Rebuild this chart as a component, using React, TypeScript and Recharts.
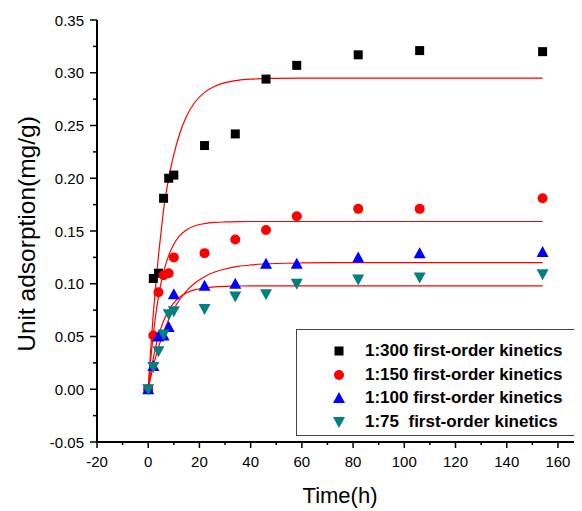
import React from 'react';
import { ComposedChart, XAxis, YAxis, Scatter, Line, Legend } from 'recharts';

const times = [0, 2, 4, 6, 8, 10, 22, 34, 46, 58, 82, 106, 154];
const r300 = [0, 0.105, 0.110, 0.181, 0.200, 0.203, 0.231, 0.242, 0.294, 0.307, 0.317, 0.321, 0.320];
const r150 = [0, 0.051, 0.092, 0.108, 0.110, 0.125, 0.129, 0.142, 0.151, 0.164, 0.171, 0.171, 0.181];
const r100 = [0, 0.022, 0.050, 0.051, 0.059, 0.090, 0.098, 0.100, 0.119, 0.119, 0.125, 0.129, 0.130];
const r75 = [0, 0.021, 0.036, 0.052, 0.071, 0.074, 0.076, 0.088, 0.090, 0.100, 0.104, 0.106, 0.109];

const fitTimes = [0, 1, 2, 3, 4, 5, 6, 8, 10, 12, 15, 18, 22, 26, 30, 35, 40, 50, 60, 80, 110, 154];
const fit300 = [0, 0.0385, 0.072, 0.101, 0.1265, 0.1485, 0.170, 0.200, 0.2223, 0.240, 0.2589, 0.2713, 0.2814, 0.2872, 0.2906, 0.2928, 0.2939, 0.2947, 0.295, 0.295, 0.295, 0.295];
const fit150 = [0, 0.0288, 0.0524, 0.0718, 0.0876, 0.1005, 0.1111, 0.1269, 0.1375, 0.1446, 0.1511, 0.1547, 0.157, 0.1581, 0.1586, 0.1589, 0.159, 0.159, 0.159, 0.159, 0.159, 0.159];
const fit100 = [0, 0.0114, 0.0218, 0.0311, 0.0396, 0.0472, 0.0541, 0.0661, 0.0759, 0.0839, 0.0932, 0.1002, 0.1067, 0.1111, 0.114, 0.1164, 0.1178, 0.1192, 0.1197, 0.12, 0.12, 0.12];
const fit75 = [0, 0.0161, 0.0296, 0.0409, 0.0503, 0.0582, 0.0647, 0.0748, 0.0818, 0.0867, 0.0914, 0.0942, 0.0961, 0.0971, 0.0976, 0.0978, 0.098, 0.098, 0.098, 0.098, 0.098, 0.098];

const seriesNames = ['1:300 first-order kinetics', '1:150 first-order kinetics', '1:100 first-order kinetics', '1:75  first-order kinetics'];
const xTicks = [-20, -10, 0, 10, 20, 30, 40, 50, 60, 70, 80, 90, 100, 110, 120, 130, 140, 150, 160];
const yTicks = [-0.05, -0.025, 0, 0.025, 0.05, 0.075, 0.1, 0.125, 0.15, 0.175, 0.2, 0.225, 0.25, 0.275, 0.3, 0.325, 0.35];

const FONT = '"Liberation Sans", Arial, sans-serif';

const toPts = (xs: number[], ys: number[]) => xs.map((x, i) => ({ x, y: ys[i] }));

const Square = (p: any) => <rect x={p.cx - 4.5} y={p.cy - 4.5} width={9} height={9} fill="#000" />;
const Circle = (p: any) => <circle cx={p.cx} cy={p.cy} r={5} fill="#ff0000" />;
const TriUp = (p: any) => <polygon points={`${p.cx - 6},${p.cy + 5} ${p.cx + 6},${p.cy + 5} ${p.cx},${p.cy - 6}`} fill="#0000ff" />;
const TriDown = (p: any) => <polygon points={`${p.cx - 6},${p.cy - 5} ${p.cx + 6},${p.cy - 5} ${p.cx},${p.cy + 6}`} fill="#008080" />;

const XTick = (props: any) => {
  const { x, y, payload } = props;
  const v = payload.value;
  const major = Math.round(v) % 20 === 0;
  return (
    <g>
      <line x1={x} y1={y} x2={x} y2={y + (major ? 6 : 3)} stroke="#000" strokeWidth={1.5} />
      {major && (
        <text x={x} y={y + 25} textAnchor="middle" fontSize={15} fontFamily={FONT} fill="#000">{v}</text>
      )}
    </g>
  );
};

const YTick = (props: any) => {
  const { x, y, payload } = props;
  const v = payload.value;
  const major = Math.round(v * 1000) % 50 === 0;
  return (
    <g>
      <line x1={x} y1={y} x2={x - (major ? 7 : 4)} y2={y} stroke="#000" strokeWidth={1.5} />
      {major && (
        <text x={x - 13} y={y + 5.5} textAnchor="end" fontSize={15} fontFamily={FONT} fill="#000">{v.toFixed(2)}</text>
      )}
    </g>
  );
};

const LegendSym = ({ i }: { i: number }) => (
  <svg width={14} height={14} style={{ display: 'block' }}>
    {i === 0 && <rect x={2.5} y={2.5} width={9} height={9} fill="#000" />}
    {i === 1 && <circle cx={7} cy={7} r={5} fill="#ff0000" />}
    {i === 2 && <polygon points="1,12 13,12 7,1" fill="#0000ff" />}
    {i === 3 && <polygon points="1,2 13,2 7,13" fill="#008080" />}
  </svg>
);

const LegendBox = () => (
  <div style={{ width: 285, height: 107, boxSizing: 'border-box', border: '1px solid #444', background: '#fff', position: 'relative' }}>
    {seriesNames.map((n, i) => (
      <div key={i} style={{ position: 'absolute', left: 0, top: 10 + i * 23.5, height: 22, display: 'flex', alignItems: 'center' }}>
        <div style={{ position: 'absolute', left: 35 }}><LegendSym i={i} /></div>
        <div style={{ position: 'absolute', left: 68, whiteSpace: 'pre', fontFamily: FONT, fontWeight: 'bold', fontSize: 17, color: '#000', lineHeight: '22px', top: 0 }}>{n}</div>
      </div>
    ))}
  </div>
);

export default function App() {
  return (
    <ComposedChart width={574} height={503} margin={{ top: 12, right: 1, left: 0, bottom: 0 }}>
      <XAxis
        type="number"
        dataKey="x"
        domain={[-20, 169]}
        ticks={xTicks}
        interval={0}
        tick={<XTick />}
        tickSize={0}
        tickMargin={0}
        tickLine={false}
        axisLine={{ stroke: '#000', strokeWidth: 2 }}
        height={69}
        allowDataOverflow
        label={{
          content: () => (
            <text x={332} y={495} textAnchor="middle" fontSize={22} fontFamily={FONT} fill="#000">Time(h)</text>
          ),
        }}
      />
      <YAxis
        type="number"
        dataKey="y"
        domain={[-0.05, 0.35]}
        ticks={yTicks}
        interval={0}
        tick={<YTick />}
        tickSize={0}
        tickMargin={0}
        tickLine={false}
        axisLine={{ stroke: '#000', strokeWidth: 2 }}
        width={89}
        allowDataOverflow
        label={{
          content: () => (
            <text x={18} y={226} transform="rotate(-90, 18, 226)" textAnchor="middle" dominantBaseline="central" fontSize={24.5} fontFamily={FONT} fill="#000">Unit adsorption(mg/g)</text>
          ),
        }}
      />
      <Legend layout="vertical" align="center" verticalAlign="middle" content={() => <LegendBox />} wrapperStyle={{ position: 'absolute', left: 288, top: 321, width: 285, height: 107 }} />
      <Scatter name={seriesNames[0]} data={toPts(times, r300)} dataKey="y" shape={Square} isAnimationActive={false} />
      <Scatter name={seriesNames[1]} data={toPts(times, r150)} dataKey="y" shape={Circle} isAnimationActive={false} />
      <Scatter name={seriesNames[2]} data={toPts(times, r100)} dataKey="y" shape={TriUp} isAnimationActive={false} />
      <Scatter name={seriesNames[3]} data={toPts(times, r75)} dataKey="y" shape={TriDown} isAnimationActive={false} />
      <Line data={toPts(fitTimes, fit300)} dataKey="y" type="monotone" stroke="#ff0000" strokeWidth={1.2} dot={false} activeDot={false} legendType="none" isAnimationActive={false} />
      <Line data={toPts(fitTimes, fit150)} dataKey="y" type="monotone" stroke="#ff0000" strokeWidth={1.2} dot={false} activeDot={false} legendType="none" isAnimationActive={false} />
      <Line data={toPts(fitTimes, fit100)} dataKey="y" type="monotone" stroke="#ff0000" strokeWidth={1.2} dot={false} activeDot={false} legendType="none" isAnimationActive={false} />
      <Line data={toPts(fitTimes, fit75)} dataKey="y" type="monotone" stroke="#ff0000" strokeWidth={1.2} dot={false} activeDot={false} legendType="none" isAnimationActive={false} />
    </ComposedChart>
  );
}
